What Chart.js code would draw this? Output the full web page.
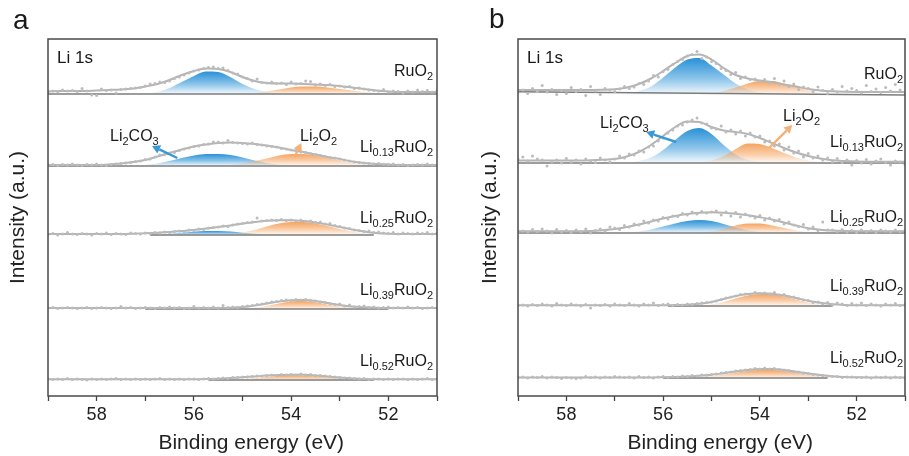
<!DOCTYPE html>
<html lang="en">
<head>
<meta charset="utf-8">
<title>Li 1s XPS</title>
<script src="https://cdn.jsdelivr.net/npm/chart.js@4.4.1/dist/chart.umd.min.js"></script>
<style>
  html, body { margin: 0; padding: 0; background: #fff; }
  #page { position: relative; width: 909px; height: 456px; overflow: hidden;
          font-family: Arial, "Liberation Sans", Helvetica, sans-serif; color: #1a1a1a; }
  .wrap { position: absolute; top: 0; }
  .lbl { position: absolute; font-size: 16px; line-height: 16px; white-space: nowrap; }
  .lbl .s { font-size: 11px; position: relative; top: 4px; }
  .big { font-size: 17px; line-height: 17px; }
  .panel { position: absolute; font-size: 28px; line-height: 28px; }
</style>
</head>
<body>
<div id="page">
  <div class="wrap" style="left:0;width:445px;height:456px"><canvas id="ca" width="445" height="456"></canvas></div>
  <div class="wrap" style="left:470px;width:439px;height:456px"><canvas id="cb" width="439" height="456"></canvas></div>

  <div class="panel" style="left:13px;top:6px">a</div>
  <div class="panel" style="left:489px;top:5px">b</div>

  <div class="lbl big" style="left:57px;top:49px">Li 1s</div>
  <div class="lbl big" style="left:527px;top:49px">Li 1s</div>

  <div class="lbl" style="right:476px;top:63px">RuO<span class="s">2</span></div>
  <div class="lbl" style="right:476px;top:139px">Li<span class="s">0.13</span>RuO<span class="s">2</span></div>
  <div class="lbl" style="right:476px;top:210px">Li<span class="s">0.25</span>RuO<span class="s">2</span></div>
  <div class="lbl" style="right:476px;top:282px">Li<span class="s">0.39</span>RuO<span class="s">2</span></div>
  <div class="lbl" style="right:476px;top:353px">Li<span class="s">0.52</span>RuO<span class="s">2</span></div>

  <div class="lbl" style="right:6px;top:66px">RuO<span class="s">2</span></div>
  <div class="lbl" style="right:6px;top:134px">Li<span class="s">0.13</span>RuO<span class="s">2</span></div>
  <div class="lbl" style="right:6px;top:209px">Li<span class="s">0.25</span>RuO<span class="s">2</span></div>
  <div class="lbl" style="right:6px;top:278px">Li<span class="s">0.39</span>RuO<span class="s">2</span></div>
  <div class="lbl" style="right:6px;top:350px">Li<span class="s">0.52</span>RuO<span class="s">2</span></div>

  <div class="lbl" style="left:110px;top:128px">Li<span class="s">2</span>CO<span class="s">3</span></div>
  <div class="lbl" style="left:300px;top:128px">Li<span class="s">2</span>O<span class="s">2</span></div>
  <div class="lbl" style="left:600px;top:115px">Li<span class="s">2</span>CO<span class="s">3</span></div>
  <div class="lbl" style="left:783px;top:108px">Li<span class="s">2</span>O<span class="s">2</span></div>
</div>

<script>
// binding energy grids (eV)
const energyFit = [59, 58.75, 58.5, 58.25, 58, 57.75, 57.5, 57.25, 57, 56.75, 56.5, 56.25, 56, 55.75, 55.5, 55.25,
  55, 54.75, 54.5, 54.25, 54, 53.75, 53.5, 53.25, 53, 52.75, 52.5, 52.25, 52, 51.75, 51.5, 51.25, 51];
const energyScan = [59.0, 58.9, 58.8, 58.7, 58.6, 58.5, 58.4, 58.3, 58.2, 58.1,
  58.0, 57.9, 57.8, 57.7, 57.6, 57.5, 57.4, 57.3, 57.2, 57.1,
  57.0, 56.9, 56.8, 56.7, 56.6, 56.5, 56.4, 56.3, 56.2, 56.1,
  56.0, 55.9, 55.8, 55.7, 55.6, 55.5, 55.4, 55.3, 55.2, 55.1,
  55.0, 54.9, 54.8, 54.7, 54.6, 54.5, 54.4, 54.3, 54.2, 54.1,
  54.0, 53.9, 53.8, 53.7, 53.6, 53.5, 53.4, 53.3, 53.2, 53.1,
  53.0, 52.9, 52.8, 52.7, 52.6, 52.5, 52.4, 52.3, 52.2, 52.1,
  52.0, 51.9, 51.8, 51.7, 51.6, 51.5, 51.4, 51.3, 51.2, 51.1,
  51.0];
const tickEV = [59, 58, 57, 56, 55, 54, 53, 52, 51];

// stacking offsets and fitted background spans
const offsetsA = [302, 230, 161, 87, 16];
const offsetsB = [301.5, 233, 163, 90, 18];
const baseFromA = [59, 59, 56.9, 57, 55.7];
const baseToA = [51, 51, 52.3, 52, 52.3];
const baseFromB = [59, 59, 59, 55.9, 56];
const baseToB = [51, 51, 51, 52.5, 52.6];
const baseTiltB = [[2.8, -0.5], [0, 0], [0, 0], [0, 0], [0, 0]];

// ---------- panel a ----------
const aRuO2Scan = [2.5,3,2,4,3,3.5,2.5,5.5,3,-1,
  -1.5,5,3.5,4,1,4.5,5,5.5,6,6.5,
  8,10,10.5,12,11.5,13,15.5,17,19,21,
  23,24,25.5,26.5,27,25.5,26,23.5,21,20,
  17,15.5,13,15,11.5,11,12,10.5,11,9.5,
  12,10,10.5,13,12.5,9,10,8.5,9.5,7.5,
  8,7,7.5,5.5,6,5,4,3.5,3,4.5,
  2,3,2.5,1,3,2,4,2.5,3.5,2,
  3];
const aRuO2Fit = [2.5,3,3,3,3.5,4,4.5,5.5,7.5,10,14,19,23,25.5,25,22,17,13,11,10.5,10.5,10,9.5,9,8,6.5,5,3.5,2.5,2,2,2,2];
const aRuO2Co3 = [0,0,0,0,0,0,0,0,0.5,2,6,12,18,22.5,22,17,10,5,2,0.5,0,0,0,0,0,0,0,0,0,0,0,0,0];
const aRuO2O2 = [0,0,0,0,0,0,0,0,0,0,0,0,0,0,0,0,0.3,1,2.5,4.5,6.5,7.5,7.5,6.5,5,3.5,2,1,0.3,0,0,0,0];

const aLi13Scan = [1,1.5,0.5,1.5,1,2,1,0.5,1.5,1,
  2,1,0.5,1.5,2,2.5,3,3.5,4.5,5,
  6.5,7,9,11,11.5,13,13.5,15.5,17,18,
  19.5,20,21.5,22,24,24,23,25.5,23.5,23,
  22.5,22,23,21.5,21,20,19.5,19,17.5,17,
  16,15.5,14,13.5,12.5,11.5,10.5,9.5,8.5,8,
  7,6,5,4,3.5,3,2.5,2,2.5,1.5,
  1.5,2,1,1.5,0.5,1,1.5,1,2,1,
  0.5];
const aLi13Fit = [1,1,1,1,1,1.5,2.5,4,6,9.5,13,16.5,19.5,21.5,23,23.5,23,22,20.5,18.5,16,14,11.5,9,7,4.5,3,2,1.5,1,1,1,1];
const aLi13Co3 = [0,0,0,0,0,0,0,0.3,1,2.5,5,8,10.5,12,12,11,8.5,5.5,3,1.2,0.4,0,0,0,0,0,0,0,0,0,0,0,0];
const aLi13O2 = [0,0,0,0,0,0,0,0,0,0,0,0,0,0,0.3,1,2.5,5,7.5,10.5,12,12,10.5,8,5.5,3,1.5,0.5,0,0,0,0,0];

const aLi25Scan = [0.5,1.5,0,1,2.5,1,0.5,1.5,1,0,
  1.5,1,2,0.5,1.5,1,0.5,2,1.5,1,
  2,1.5,2.5,2,3,2.5,3.5,4,3.5,5,
  4.5,6,5.5,7,7.5,8,9,8.5,10,11,
  11.5,12.5,13,17,14,14.5,15,14.5,15.5,14.5,
  15,14,15,13.5,14,12.5,13,11,11.5,9.5,
  8.5,7,6.5,5,4.5,3.5,4,2.5,3,2,
  1.5,2.5,1,2,1.5,1,2,1.5,2.5,1,
  2];
const aLi25Fit = [1,1,1,1,1,1,1,1.3,1.8,2.3,3,4,5,6.5,8,9.5,11.5,13,14.3,14.8,14.8,14,12.5,10.5,8,5.5,3.5,2,1.3,1,1,1,1];
const aLi25Co3 = [0,0,0,0,0,0,0,0,0,0.5,1.2,2.2,3.2,3.9,4,3.4,2.3,1.2,0.5,0,0,0,0,0,0,0,0,0,0,0,0,0,0];
const aLi25O2 = [0,0,0,0,0,0,0,0,0,0,0,0,0,0,0.5,1.2,2.6,5,8.5,11.5,13,13,11.5,9,6,3.5,1.8,0.7,0,0,0,0,0];

const aLi39Scan = [1,1.5,0.5,1,1.5,1,0.5,1,1.5,0.5,
  1,1.5,1,0.5,1,2.5,1,1.5,0.5,1,
  1.5,1,0.5,1.5,1,2,1,1.5,0.5,1,
  2.5,1,1.5,1,2,1,3.5,1.5,2,1.5,
  2.5,3,3.5,4.5,5,6,7,7.5,8.5,9,
  8.5,9.5,9,9.5,8.5,8,7,6.5,5.5,4.5,
  5,3,4,2,2.5,3,1.5,2,1,1.5,
  2,1,1.5,1,2,1,1.5,0.5,1,1.5,
  1];
const aLi39Fit = [1,1,1,1,1,1,1,1,1,1,1,1,1,1,1,1.3,2,3.5,5.5,7.5,8.8,9,8,6,4,2.5,1.7,1.2,1,1,1,1,1];
const aLi39O2 = [0,0,0,0,0,0,0,0,0,0,0,0,0,0,0,0,0.3,1.2,3,5.5,7.5,8,6.8,4.5,2.4,1,0.3,0,0,0,0,0,0];

const aLi52Scan = [1,0.5,1,0.5,1.5,0.5,1,0.5,0,1,
  0.5,1,0.5,1,1.5,0.5,1,0.5,1,0.5,
  1,0.5,1,1.5,0.5,1,0.5,1,0.5,1,
  1,0.5,1,1.5,1,1.5,2,1.5,2.5,2.5,
  3,3,3.5,4,4,4.5,5,4.5,5.5,5,
  5.5,5,6,5,5.5,4.5,4.5,4,3.5,3,
  2.5,2,2,1.5,1,1.5,0.5,1,1,0.5,
  1,0.5,1,1,0.5,1,0.5,1,1.5,0.5,
  1];
const aLi52Fit = [0.7,0.7,0.7,0.7,0.7,0.7,0.7,0.7,0.7,0.7,0.7,0.7,0.7,0.9,1.3,2,2.8,3.6,4.4,5,5.3,5.2,4.6,3.6,2.5,1.6,1,0.8,0.7,0.7,0.7,0.7,0.7];
const aLi52O2 = [0,0,0,0,0,0,0,0,0,0,0,0,0,0,0,0.3,0.9,1.8,2.9,3.9,4.4,4.3,3.6,2.6,1.5,0.7,0.2,0,0,0,0,0,0];

// ---------- panel b ----------
const bRuO2Scan = [2,4.5,1,6,3,9,2.5,5,0,4,
  1,7,3,5,-1,8,3.5,0,6,4.5,
  3,5.5,8,6,7.5,11,10,13.5,19,17.5,
  23,25,30,33,35,38.5,40,43,36,37.5,
  33,31,26,24,20,22,16,17.5,15,15.5,
  13,15,11.5,16,10,13.5,8,10.5,5,7.5,
  6,3,7.5,4,1,5,2.5,8,3.5,6,
  4,1.5,9,3,5.5,2,7,3.5,10,4.5,
  2];
const bRuO2Fit = [4.5,4.5,4.5,4.5,4.5,4.5,4.6,4.8,5.3,7,10.5,16,23.5,31.5,38.5,40,35,26.5,19.5,16,14,12.5,10,8,5.5,4,3.2,2.8,2.6,2.5,2.5,2.5,2.5];
const bRuO2Co3 = [0,0,0,0,0,0,0,0,0,1,3.5,8,17,27,35,36.5,29,20,11,5,2,0.6,0,0,0,0,0,0,0,0,0,0,0];
const bRuO2O2 = [0,0,0,0,0,0,0,0,0,0,0,0,0,0,0,0.3,1.2,3.5,7,11,13.5,13.5,11,7.5,4,1.8,0.6,0,0,0,0,0,0];

const bLi13Scan = [4,6,2,7,4,3,-3,1,3,0,
  4.5,1,3,-1,4,2,0.5,5,3,1,
  4,7,5,9,8,12,11,16,17,22,
  25,30,33,37,38,41,43,45,40,39,
  35,34,37,31,33,29,32,27,30,26,
  27,21,22,17,19,13,16,10,12,6,
  9.5,5,7,3,5,1,4.5,0.5,3,-2,
  2.5,0,3.5,-1,2,4,0.5,-2,2,1,
  -1.5];
const bLi13Fit = [2.5,2.5,2.5,2.5,2.5,2.5,2.7,3.2,4,6.5,11,18,27,36,41.5,41,36,32.5,31,29,25,20,15,10.5,7,4.5,2.8,2,1.5,1.3,1.2,1.2,1.2];
const bLi13Co3 = [0,0,0,0,0,0,0,0,0,0.5,2,5.5,13,23,32,35,29,18,8.5,3,1,0,0,0,0,0,0,0,0,0,0,0,0];
const bLi13O2 = [0,0,0,0,0,0,0,0,0,0,0,0,0,0,0,0.5,2.5,7,14,19.5,19,15,10,5.5,2.5,1,0.3,0,0,0,0,0,0];

const bLi25Scan = [0.5,2,1,3.5,1.5,4,2,0,3.5,1,
  2.5,0.5,3,1.5,4,0,2.5,4,2,6,
  5,3.5,7.5,6,9,8,12,10,13,12,
  15.5,14,17,16.5,19.5,18,21,19,21.5,20,
  21,22,18,21,17,20.5,16,19,17,15,
  17.5,13,15,12,13.5,9,11,8,6.5,8.5,
  4,6,2.5,11,3,3,1.5,3.5,1,2.5,
  0.5,3,1.5,2.5,0.5,3,2,1,3,1.5,
  2.5];
const bLi25Fit = [1.7,1.7,1.7,1.7,1.7,1.8,2,2.8,4,6,8.5,11.5,14.5,17,19,20.3,20.7,20.3,19.3,17.8,15.8,13.5,10.5,7.5,4.8,3.2,2.4,2,1.8,1.7,1.7,1.7,1.7];
const bLi25Co3 = [0,0,0,0,0,0,0,0,0,0.5,1.5,3.5,6.5,9.5,12,13,12,9,5.5,2.5,1,0,0,0,0,0,0,0,0,0,0,0,0];
const bLi25O2 = [0,0,0,0,0,0,0,0,0,0,0,0,0,0,0,0.5,1.5,4,7.5,9.5,9.5,7.5,5,2.5,1,0.3,0,0,0,0,0,0,0];

const bLi39Scan = [0.5,1,0,1.5,0.5,2,1,0,2.5,1,
  0.5,2,1,0,1.5,-2,1,0.5,1.5,0,
  2,1,0.5,2.5,1,0,2,1,3,0.5,
  1.5,2,0.5,1.5,1,2,1.5,2.5,3,3.5,
  4,5,6.5,8,9,10,11.5,12,11,13.5,
  12.5,13,12,13.5,11,11.5,9.5,9,7.5,6,
  5.5,3.5,4,2,3.5,1,3,2,0.5,2.5,
  1,3,0.5,2,1,0,2,1,2.5,0.5,
  1.5];
const bLi39Fit = [0.7,0.7,0.7,0.7,0.7,0.7,0.7,0.7,0.7,0.7,0.7,0.7,0.7,0.9,1.3,2.2,4,7,10,12,12.7,12.3,10.5,8,5.3,3.2,1.8,1.1,0.8,0.7,0.7,0.7,0.7];
const bLi39O2 = [0,0,0,0,0,0,0,0,0,0,0,0,0,0,0,0.4,1.6,4,7.5,10.5,12,11.5,9.5,6.5,3.5,1.5,0.5,0,0,0,0,0,0];

const bLi52Scan = [0.5,1,0,1,0.5,1.5,0,1,0.5,-0.5,
  0.5,0,-0.5,0,1.5,0.5,1,0,1,0.5,
  1.5,1,0.5,1,0,1.5,0.5,1,0,1,
  1.5,0.5,1.5,1,2,1.5,2.5,2,3,3,
  3.5,4,5,5.5,6,7,7.5,8,8.5,9.5,
  9,10,9,9.5,8.5,8,7.5,6.5,6,5,
  4.5,3.5,3,2.5,2,1.5,1.5,0.5,1,1,
  0.5,0.5,1,0,1,0.5,1,0,1,0.5,
  0];
const bLi52Fit = [0.5,0.5,0.5,0.5,0.5,0.5,0.5,0.5,0.5,0.5,0.5,0.5,0.7,1,1.5,2.3,3.3,4.8,6.5,8,9,9,8,6.3,4.5,3,1.8,1,0.7,0.5,0.5,0.5,0.5];
const bLi52O2 = [0,0,0,0,0,0,0,0,0,0,0,0,0,0,0.3,0.9,2,3.5,5.3,7,8,8,7,5.3,3.3,1.8,0.8,0.3,0,0,0,0,0];

const scansA = [aRuO2Scan, aLi13Scan, aLi25Scan, aLi39Scan, aLi52Scan];
const fitsA = [aRuO2Fit, aLi13Fit, aLi25Fit, aLi39Fit, aLi52Fit];
const co3A = [aRuO2Co3, aLi13Co3, aLi25Co3, null, null];
const o2A = [aRuO2O2, aLi13O2, aLi25O2, aLi39O2, aLi52O2];

const scansB = [bRuO2Scan, bLi13Scan, bLi25Scan, bLi39Scan, bLi52Scan];
const fitsB = [bRuO2Fit, bLi13Fit, bLi25Fit, bLi39Fit, bLi52Fit];
const co3B = [bRuO2Co3, bLi13Co3, bLi25Co3, null, null];
const o2B = [bRuO2O2, bLi13O2, bLi25O2, bLi39O2, bLi52O2];

// annotation arrows, in (eV, intensity) coordinates
const arrowsById = {
  ca: [
    { from: [56.34, 238], to: [56.86, 250], color: '#3b98d6' },
    { from: [53.93, 239], to: [53.79, 253], color: '#f4b07a' }
  ],
  cb: [
    { from: [55.73, 254], to: [56.35, 264], color: '#3b98d6' },
    { from: [53.81, 248], to: [53.33, 271], color: '#f4b07a' }
  ]
};

const BLUE = [40, 145, 215];
const ORANGE = [246, 164, 96];

Chart.defaults.font.family = 'Arial, "Liberation Sans", Helvetica, sans-serif';
Chart.defaults.color = '#222';

// 위→아래로 옅어지는 성분 채우기
function peakFill(rgb, base, peak) {
  return function (ctx) {
    const chart = ctx.chart;
    if (!chart.chartArea) return `rgba(${rgb},0.5)`;
    const y = chart.scales.y;
    const g = chart.ctx.createLinearGradient(0, y.getPixelForValue(base + peak), 0, y.getPixelForValue(base));
    g.addColorStop(0, `rgba(${rgb},1)`);
    g.addColorStop(0.55, `rgba(${rgb},0.55)`);
    g.addColorStop(1, `rgba(${rgb},0.05)`);
    return g;
  };
}

function componentSet(values, base, rgb, order) {
  return {
    data: energyFit.map((e, i) => ({ x: e, y: base + values[i] })),
    fill: { value: base },
    backgroundColor: peakFill(rgb, base, Math.max(...values)),
    borderWidth: 0,
    pointRadius: 0,
    cubicInterpolationMode: 'monotone',
    order: order
  };
}

function buildDatasets(offsets, scans, fits, co3, o2, from, to, tilt) {
  const sets = [];
  offsets.forEach((off, k) => {
    if (co3[k]) sets.push(componentSet(co3[k], off, BLUE, 5));
    if (o2[k]) sets.push(componentSet(o2[k], off, ORANGE, 4));
    const lv = tilt ? tilt[k] : [0, 0];
    sets.push({
      data: [{ x: from[k], y: off + lv[0] }, { x: to[k], y: off + lv[1] }],
      borderColor: '#7c7c7c', borderWidth: 1.6, pointRadius: 0, fill: false, order: 3
    });
    sets.push({
      data: energyFit.map((e, i) => ({ x: e, y: off + fits[k][i] })),
      borderColor: '#b4b4b4', borderWidth: 2, pointRadius: 0, fill: false,
      cubicInterpolationMode: 'monotone', order: 2
    });
    sets.push({
      data: energyScan.map((e, i) => ({ x: e, y: off + scans[k][i] })),
      showLine: false, pointRadius: 1.5, pointBorderWidth: 0,
      pointBackgroundColor: '#bcbcbc', order: 1
    });
  });
  return sets;
}

const boxPlugin = {
  id: 'frameBox',
  afterDraw(chart) {
    const { ctx, chartArea: a } = chart;
    ctx.save();
    ctx.strokeStyle = '#4a4a4a';
    ctx.lineWidth = 1.5;
    ctx.strokeRect(a.left, a.top, a.right - a.left, a.bottom - a.top);
    ctx.restore();
  }
};

const arrowPlugin = {
  id: 'peakArrows',
  afterDatasetsDraw(chart) {
    const list = arrowsById[chart.canvas.id] || [];
    const { ctx, scales: { x, y } } = chart;
    list.forEach(a => {
      const tx = x.getPixelForValue(a.from[0]), ty = y.getPixelForValue(a.from[1]);
      const hx = x.getPixelForValue(a.to[0]), hy = y.getPixelForValue(a.to[1]);
      const ang = Math.atan2(hy - ty, hx - tx);
      const len = 8, half = 4.5;
      const bx = hx - len * Math.cos(ang), by = hy - len * Math.sin(ang);
      ctx.save();
      ctx.strokeStyle = a.color;
      ctx.fillStyle = a.color;
      ctx.lineWidth = 2.4;
      ctx.beginPath();
      ctx.moveTo(tx, ty);
      ctx.lineTo(bx, by);
      ctx.stroke();
      ctx.beginPath();
      ctx.moveTo(hx, hy);
      ctx.lineTo(bx + half * Math.sin(ang), by - half * Math.cos(ang));
      ctx.lineTo(bx - half * Math.sin(ang), by + half * Math.cos(ang));
      ctx.closePath();
      ctx.fill();
      ctx.restore();
    });
  }
};

function makeChart(id, datasets, padRight, titlePad) {
  return new Chart(document.getElementById(id), {
    type: 'line',
    data: { datasets: datasets },
    options: {
      responsive: false,
      animation: false,
      devicePixelRatio: 1,
      layout: { padding: { top: 39, right: padRight, left: 0, bottom: 0 } },
      plugins: { legend: { display: false }, tooltip: { enabled: false } },
      scales: {
        x: {
          type: 'linear', min: 51, max: 59, reverse: true,
          afterBuildTicks: s => { s.ticks = tickEV.map(v => ({ value: v })); },
          afterFit: s => { s.height = 60; },
          border: { display: false },
          grid: { drawOnChartArea: false, drawTicks: true, tickLength: 5, tickColor: '#444', tickWidth: 1.3 },
          ticks: {
            autoSkip: false, maxRotation: 0, padding: 3, font: { size: 18 }, color: '#222',
            callback: v => (v % 2 === 0 ? String(v) : '')
          },
          title: { display: true, text: '   Binding energy (eV)', font: { size: 21 }, color: '#222', padding: { top: 0, bottom: 0 } }
        },
        y: {
          min: 0, max: 357,
          afterFit: s => { s.width = 48; },
          border: { display: false },
          grid: { display: false },
          ticks: { display: false },
          title: { display: true, text: 'Intensity (a.u.)', font: { size: 21 }, color: '#222', padding: { top: titlePad, bottom: 0 } }
        }
      }
    },
    plugins: [boxPlugin, arrowPlugin]
  });
}

makeChart('ca', buildDatasets(offsetsA, scansA, fitsA, co3A, o2A, baseFromA, baseToA, null), 8, 5.5);
makeChart('cb', buildDatasets(offsetsB, scansB, fitsB, co3B, o2B, baseFromB, baseToB, baseTiltB), 2, 7.5);
</script>
</body>
</html>
